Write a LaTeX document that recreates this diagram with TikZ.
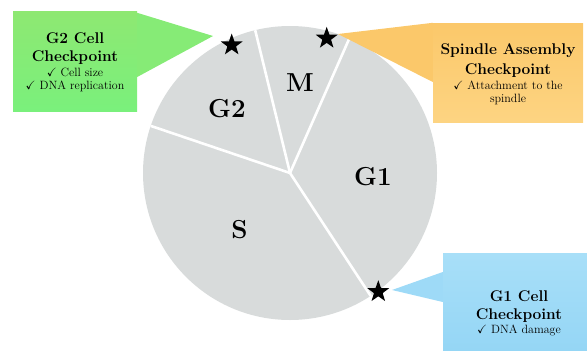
\documentclass[tikz,border=0pt]{standalone}
\usepackage{amssymb}
\usetikzlibrary{shapes.geometric}
\definecolor{piegray}{HTML}{D8DBDB}
\definecolor{gtop}{HTML}{8EE872}
\definecolor{gbot}{HTML}{7AF07C}
\definecolor{otop}{HTML}{FBC86A}
\definecolor{obot}{HTML}{FDD482}
\definecolor{btop}{HTML}{A8DFF8}
\definecolor{bbot}{HTML}{93D5F5}
\tikzset{
  pielabel/.style={font=\bfseries\fontsize{26}{30}\selectfont, inner sep=0pt},
  spoke/.style={white, line width=2.6pt},
  starmark/.style={star, star points=5, star point ratio=2.5, fill=black, minimum size=23pt, inner sep=0pt},
  callout/.style={rectangle, inner sep=0pt},
  ctext/.style={align=center, anchor=north, inner sep=0pt, font=\fontsize{12}{13}\selectfont},
}
\newcommand{\ttl}[1]{{\bfseries\fontsize{15.5}{13}\selectfont #1}}
\begin{document}
\begin{tikzpicture}[x=1pt,y=-1pt]
\useasboundingbox (0,0) rectangle (587,351);
% pie
\coordinate (c) at (290,173);
\fill[piegray] (c) circle[radius=147pt];
\coordinate (sg2) at (150.8,125.9);
\coordinate (g2m) at (255.2,30.2);
\coordinate (mg1) at (349.3,38.5);
\coordinate (g1s) at (370.7,295.9);
\draw[spoke] (c) -- (sg2);
\draw[spoke] (c) -- (g2m);
\draw[spoke] (c) -- (mg1);
\draw[spoke] (c) -- (g1s);
\node[pielabel] (lG2) at (227,109) {G2};
\node[pielabel] (lM) at (300,82.5) {M};
\node[pielabel] (lG1) at (373,176.5) {G1};
\node[pielabel] (lS) at (239.5,230) {S};
% callout boxes
\node[callout, minimum width=124pt, minimum height=100pt, top color=gtop, bottom color=gbot] (bG2) at (75,61) {};
\node[callout, minimum width=150pt, minimum height=99pt, top color=otop, bottom color=obot] (bSA) at (508,72.5) {};
\node[callout, minimum width=152pt, minimum height=107pt, top color=btop, bottom color=bbot] (bG1) at (519,306.5) {};
% pointer tips
\coordinate (tG2) at (213,36);
\coordinate (tSA) at (338,34);
\coordinate (tG1) at (392,290);
\fill[gtop!60!gbot] (bG2.north east) ++(0,2) -- (tG2) -- ([yshift=-16pt]bG2.east) -- cycle;
\fill[otop] (bSA.north west) -- (tSA) -- ([yshift=-9.5pt]bSA.west) -- cycle;
\fill[btop!50!bbot] ([yshift=34.5pt]bG1.west) -- (tG1) -- ([yshift=4.5pt]bG1.west) -- cycle;
% stars
\node[starmark] (sG2) at (231.7,45) {};
\node[starmark] (sSA) at (326.7,38.3) {};
\node[starmark] (sG1) at (378.3,291.7) {};
% texts
\node[ctext] (xG2) at (75,32) {\ttl{G2 Cell}\\[5pt]\ttl{Checkpoint}\\[2pt]\checkmark\ Cell size\\[0.5pt]\checkmark\ DNA replication};
\node[ctext] (xSA) at (508,43.6) {\ttl{Spindle Assembly}\\[5pt]\ttl{Checkpoint}\\[2pt]\checkmark\ Attachment to the\\[0pt]spindle};
\node[ctext] (xG1) at (519,290.3) {\ttl{G1 Cell}\\[5pt]\ttl{Checkpoint}\\[1pt]\checkmark\ DNA damage};
\end{tikzpicture}
\end{document}
